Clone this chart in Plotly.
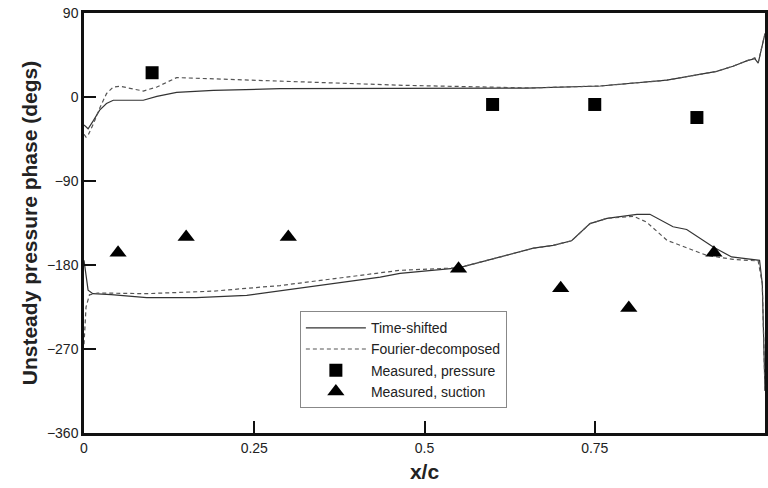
import plotly.graph_objects as go

# pressure side (upper curves)
xp_ts = [0.0, 0.003, 0.006, 0.014, 0.023, 0.033, 0.043, 0.087, 0.107, 0.136, 0.19, 0.288,
         0.4, 0.5, 0.65, 0.758, 0.856, 0.929, 0.953, 0.974, 0.985, 0.99, 0.997, 1.0]
yp_ts = [-30, -32, -34, -25, -14, -7, -3.5, -3.5, 0.7, 5, 7, 9,
         9, 9, 9.5, 11.8, 18, 27.5, 33, 39, 41, 36.4, 60, 68]
xp_fd = [0.0, 0.003, 0.006, 0.014, 0.023, 0.033, 0.043, 0.053, 0.087, 0.107, 0.136, 0.19,
         0.288, 0.469, 0.655, 0.758, 0.856, 0.929, 0.953, 0.974, 0.985, 0.99, 0.997, 1.0]
yp_fd = [-40, -43, -41, -28.5, -12, 3.6, 10.7, 11.5, 6.4, 10.7, 20.8, 19.7,
         17, 12.5, 9.7, 11.8, 18, 27.5, 33, 39, 42, 37, 60, 68]

# suction side (lower curves)
xs_ts = [0.0, 0.002, 0.006, 0.013, 0.04, 0.092, 0.165, 0.239, 0.337, 0.435, 0.464, 0.55,
         0.66, 0.689, 0.716, 0.743, 0.768, 0.812, 0.831, 0.865, 0.885, 0.924, 0.951, 0.973,
         0.992, 0.996, 1.0]
ys_ts = [-175, -186, -207, -210.7, -211.7, -215, -215, -212.5, -203, -193, -189, -183,
         -162, -159, -154, -135.7, -130, -125.7, -125.7, -139, -142, -160.7, -171.4, -173,
         -175, -200, -315]
xs_fd = [0.0, 0.003, 0.008, 0.02, 0.092, 0.19, 0.288, 0.435, 0.464, 0.55,
         0.66, 0.689, 0.716, 0.743, 0.768, 0.807, 0.826, 0.856, 0.875, 0.914, 0.953, 0.99,
         0.996, 1.0]
ys_fd = [-265, -225, -212, -210, -210.7, -208, -202, -189, -185.7, -183,
         -162, -159, -154, -135.7, -130, -127.8, -134, -153.5, -159, -169.6, -174, -175.7,
         -200, -315]

# measured data
x_press = [0.1, 0.6, 0.75, 0.9]
y_press = [26, -8, -8, -22]
x_suct = [0.05, 0.15, 0.3, 0.55, 0.7, 0.8, 0.925]
y_suct = [-167, -150, -150, -184, -205, -226, -167]

x_ticks = [0, 0.25, 0.5, 0.75, 1]
x_labels = ["0", "0.25", "0.5", "0.75", "1"]
y_ticks = [-360, -270, -180, -90, 0, 90]

solid = dict(color="#333333", width=1.2)
dashed = dict(color="#555555", width=1.2, dash="4px,3px")

fig = go.Figure()
fig.add_trace(go.Scatter(x=xp_ts, y=yp_ts, mode="lines", line=solid,
                         name="Time-shifted", legendgroup="ts"))
fig.add_trace(go.Scatter(x=xs_ts, y=ys_ts, mode="lines", line=solid,
                         name="Time-shifted", legendgroup="ts", showlegend=False))
fig.add_trace(go.Scatter(x=xp_fd, y=yp_fd, mode="lines", line=dashed,
                         name="Fourier-decomposed", legendgroup="fd"))
fig.add_trace(go.Scatter(x=xs_fd, y=ys_fd, mode="lines", line=dashed,
                         name="Fourier-decomposed", legendgroup="fd", showlegend=False))
fig.add_trace(go.Scatter(x=x_press, y=y_press, mode="markers", name="Measured, pressure",
                         marker=dict(symbol="square", size=13, color="black")))
fig.add_trace(go.Scatter(x=x_suct, y=y_suct, mode="markers", name="Measured, suction",
                         marker=dict(symbol="triangle-up", size=15, color="black")))

axis_font = dict(family="Liberation Sans, Arial, sans-serif", size=14, color="#222")
title_font = dict(family="Liberation Sans, Arial, sans-serif", size=21, color="#222")

fig.update_layout(
    width=768, height=488,
    margin=dict(l=84, r=3, t=13, b=55),
    paper_bgcolor="white", plot_bgcolor="white",
    font=axis_font,
    xaxis=dict(range=[0, 1], tickvals=x_ticks, ticktext=x_labels,
               ticks="inside", ticklen=12, tickwidth=2, tickcolor="#111",
               showline=True, linewidth=2.5, linecolor="#111", mirror=True,
               showgrid=False, zeroline=False, tickfont=axis_font, automargin=False,
               title=dict(text="<b>x/c</b>", font=title_font, standoff=10)),
    yaxis=dict(range=[-360, 90], tickvals=y_ticks,
               ticks="inside", ticklen=12, tickwidth=2, tickcolor="#111",
               showline=True, linewidth=2.5, linecolor="#111", mirror=True,
               showgrid=False, zeroline=False, tickfont=axis_font, automargin=False,
               title=dict(text="<b>Unsteady pressure phase (degs)</b>", font=title_font,
                          standoff=4)),
    legend=dict(x=0.317, y=0.29, xanchor="left", yanchor="top",
                bordercolor="#888", borderwidth=1, bgcolor="white",
                itemwidth=60,
                font=dict(family="Liberation Sans, Arial, sans-serif", size=14, color="#222"),
                tracegroupgap=0),
)

# drop the page's default body margin so the figure sits at the window's corner
fig.write_html("out.html", config={"displayModeBar": False},
               post_script="document.body.style.margin='0';")
